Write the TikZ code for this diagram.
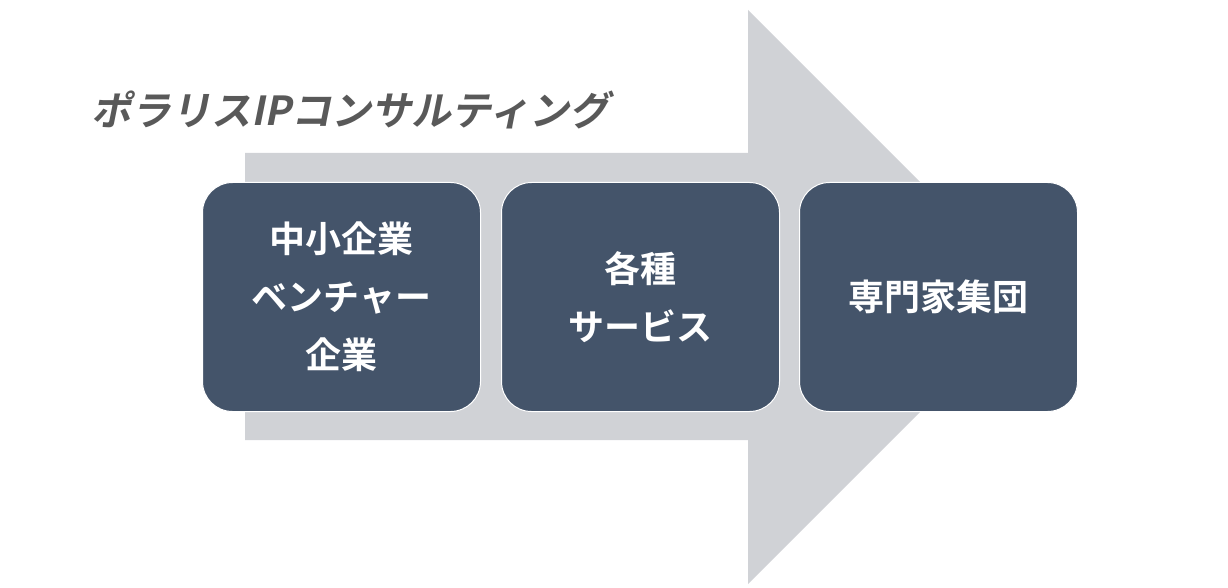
\documentclass[tikz,border=0pt]{standalone}
\usepackage{fontspec}
\newfontfamily\jp{Noto Sans CJK JP}[BoldFont={* Bold}]
\newfontfamily\jpsl{Noto Sans CJK JP}[FakeSlant=0.2,BoldFont={* Bold},BoldFeatures={FakeSlant=0.2}]
\definecolor{arrowc}{HTML}{D0D2D6}
\definecolor{boxc}{HTML}{44546A}
\definecolor{titlec}{HTML}{595959}
\begin{document}
\begin{tikzpicture}[x=1pt,y=-1pt,
  box/.style={draw=white,line width=1pt,fill=boxc,rounded corners=30pt,minimum width=278pt,minimum height=229pt,text=white,font=\jp\bfseries\fontsize{36}{58}\selectfont,align=center}]
\useasboundingbox (0,0) rectangle (1228,588);
\fill[arrowc] (245,153) -- (748,153) -- (748,10) -- (1035,297) -- (748,584) -- (748,440) -- (245,440) -- cycle;
\node[text=titlec,font=\jpsl\bfseries\fontsize{40}{48}\selectfont,anchor=west] (t) at (88,110) {ポラリスIPコンサルティング};
\node[box] (a) at (341.5,297) {中小企業\\ベンチャー\\企業};
\node[box] (b) at (640.5,297) {各種\\サービス};
\node[box] (c) at (938.5,297) {専門家集団};
\end{tikzpicture}
\end{document}
